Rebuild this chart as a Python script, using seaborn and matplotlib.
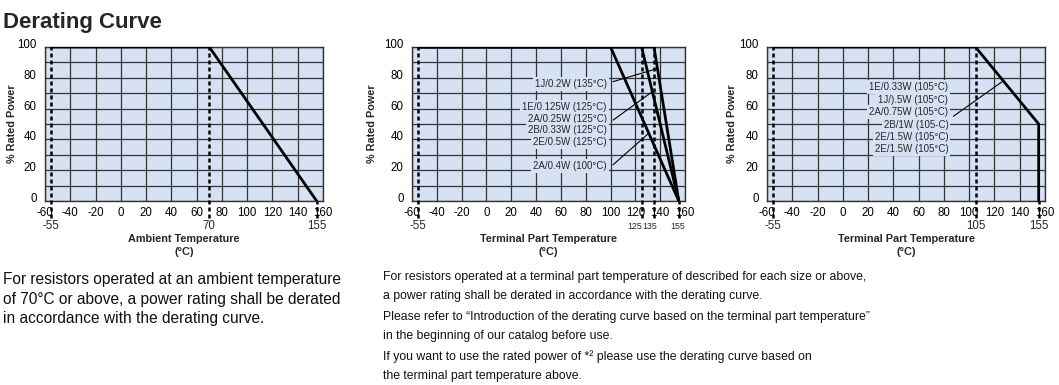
import matplotlib
matplotlib.use("Agg")
import matplotlib.pyplot as plt
import matplotlib.transforms as mtransforms
import seaborn as sns
import pandas as pd

# ---- data ----
x_ticks = [-60, -40, -20, 0, 20, 40, 60, 80, 100, 120, 140, 160]
y_grid = [0, 10, 20, 30, 40, 50, 60, 70, 80, 90, 100]

# chart 1: ambient temperature
amb_temp = [-55, 70, 155]
amb_power = [100, 100, 0]
amb_marks = [-55, 70, 155]
amb_dashed = [-55, 70]

# chart 2: terminal part temperature, three knee points
tp_curves = {
    "100": ([-55, 100, 155], [100, 100, 0]),
    "125": ([-55, 125, 155], [100, 100, 0]),
    "135": ([-55, 135, 155], [100, 100, 0]),
}
tp_marks = [-55, 125, 135, 155]
tp_dashed = [-55, 125, 135]
tp_labels_135 = ["1J/0.2W (135°C)"]
tp_labels_125 = ["1E/0.125W (125°C)", "2A/0.25W (125°C)", "2B/0.33W (125°C)", "2E/0.5W (125°C)"]
tp_labels_100 = ["2A/0.4W (100°C)"]
tp_label_y_135 = [76]
tp_label_y_125 = [61, 53.5, 46, 38.5]
tp_label_y_100 = [22.5]

# chart 3: terminal part temperature, 105 knee and 50% cutoff
tp3_temp = [-55, 105, 155, 155]
tp3_power = [100, 100, 50, 0]
tp3_marks = [-55, 105, 155]
tp3_dashed = [-55, 105]
tp3_labels = ["1E/0.33W (105°C)", "1J/).5W (105°C)", "2A/0.75W (105°C)",
              "2B/1W (105-C)", "2E/1.5W (105°C)", "2E/1.5W (105°C)"]
tp3_label_y = [74, 65.8, 58, 49.5, 41.6, 33.6]

bg = "#d6e2f3"
sns.set_style("white", {"axes.facecolor": bg})
plt.rcParams["font.family"] = ["Liberation Sans", "DejaVu Sans"]

fig = plt.figure(figsize=(10.59, 3.85), dpi=100)
W, H = 1059, 385


def make_ax(left, right, top=47, bottom=201):
    return fig.add_axes([left / W, (H - bottom) / H, (right - left) / W, (bottom - top) / H])


def style_ax(ax, marks, dashed, xlabel, mark_size=None, mark_shift=None):
    ax.set_xlim(-60, 160)
    ax.set_ylim(0, 100)
    ax.set_xticks(x_ticks)
    ax.set_xticklabels([str(t) for t in x_ticks])
    ax.set_yticks(y_grid)
    ax.set_yticklabels([str(v) if v % 20 == 0 else "" for v in y_grid])
    ax.grid(True, color="#333333", lw=0.9)
    ax.set_axisbelow(True)
    ax.tick_params(axis="both", length=0, labelsize=8.3, colors="black")
    ax.tick_params(axis="x", pad=4)
    ax.tick_params(axis="y", pad=6)
    up = mtransforms.ScaledTranslation(0, 2.5 / 72, fig.dpi_scale_trans)
    for lab in ax.get_yticklabels():
        lab.set_transform(lab.get_transform() + up)
    for s in ax.spines.values():
        s.set_color("#333333")
        s.set_linewidth(1)
    tr = ax.get_xaxis_transform()
    for i, m in enumerate(marks):
        top = 1.0 if m in dashed else 0.0
        ax.plot([m, m], [-0.11, top], transform=tr, color="black", lw=1.8,
                linestyle=(0, (1.6, 1.2)), clip_on=False, zorder=3)
        dx = mark_shift[i] if mark_shift else 0
        fs = mark_size[i] if mark_size else 8.3
        ax.annotate(str(m), (m, -0.165), xycoords=tr, xytext=(dx, 0),
                    textcoords="offset points", ha="center", va="center", fontsize=fs)
    ax.set_xlabel(xlabel, fontsize=7.8, fontweight="bold", linespacing=1.3)
    ax.xaxis.set_label_coords(0.5, -0.215)
    ax.set_ylabel("% Rated Power", fontsize=7.8, fontweight="bold")


def curve(ax, xs, ys):
    df = pd.DataFrame({"temp": xs, "power": ys})
    sns.lineplot(data=df, x="temp", y="power", ax=ax, color="black", lw=2,
                 estimator=None, sort=False, zorder=4)


def labels(ax, texts, ys, xr):
    for t, y in zip(texts, ys):
        ax.text(xr, y, t, ha="right", va="center", fontsize=7, zorder=2,
                bbox=dict(facecolor=bg, edgecolor="none", pad=1.5))


def leader(ax, x0, y0, x1, y1):
    ax.plot([x0, x1], [y0, y1], color="black", lw=0.8, zorder=4)


# chart 1
ax1 = make_ax(45, 323)
curve(ax1, amb_temp, amb_power)
style_ax(ax1, amb_marks, amb_dashed, "Ambient Temperature\n(°C)")
ax1.yaxis.set_label_coords(-0.10, 0.5)

# chart 2
ax2 = make_ax(412, 685)
for k, (xs, ys) in tp_curves.items():
    curve(ax2, xs, ys)
style_ax(ax2, tp_marks, tp_dashed, "Terminal Part Temperature\n(°C)",
         mark_size=[8.3, 6.3, 6.3, 6.3], mark_shift=[0, -5.1, -2.9, -0.5])
ax2.yaxis.set_label_coords(-0.128, 0.5)
labels(ax2, tp_labels_135, tp_label_y_135, 97)
labels(ax2, tp_labels_125, tp_label_y_125, 97)
labels(ax2, tp_labels_100, tp_label_y_100, 97)
leader(ax2, 102, 77.5, 135 + 20 * (1 - 0.86), 86)
leader(ax2, 102, 52.5, 125 + 30 * (1 - 0.71), 71)
leader(ax2, 102, 23.5, 100 + 55 * (1 - 0.44), 44)

# chart 3
ax3 = make_ax(767, 1045)
curve(ax3, tp3_temp, tp3_power)
style_ax(ax3, tp3_marks, tp3_dashed, "Terminal Part Temperature\n(°C)")
ax3.yaxis.set_label_coords(-0.108, 0.5)
labels(ax3, tp3_labels, tp3_label_y, 83.5)
leader(ax3, 87.5, 55, 127, 100 - (127 - 105))

# title and notes
fig.text(3 / W, 1 - 28 / H, "Derating Curve", fontsize=16, fontweight="bold", va="baseline")

note1 = ["For resistors operated at an ambient temperature",
         "of 70°C or above, a power rating shall be derated",
         "in accordance with the derating curve."]
note1_y = [284, 304, 323]
for t, y in zip(note1, note1_y):
    fig.text(3 / W, 1 - y / H, t, fontsize=11.2, va="baseline", color="#111111")

note2 = ["For resistors operated at a terminal part temperature of described for each size or above,",
         "a power rating shall be derated in accordance with the derating curve.",
         "Please refer to \u201cIntroduction of the derating curve based on the terminal part temperature\u201d",
         "in the beginning of our catalog before use.",
         "If you want to use the rated power of *\u00b2 please use the derating curve based on",
         "the terminal part temperature above."]
note2_y = [280, 299, 320, 339, 360, 379]
for t, y in zip(note2, note2_y):
    fig.text(383 / W, 1 - y / H, t, fontsize=8.8, va="baseline", color="#111111")

fig.savefig("out.png", dpi=100)
